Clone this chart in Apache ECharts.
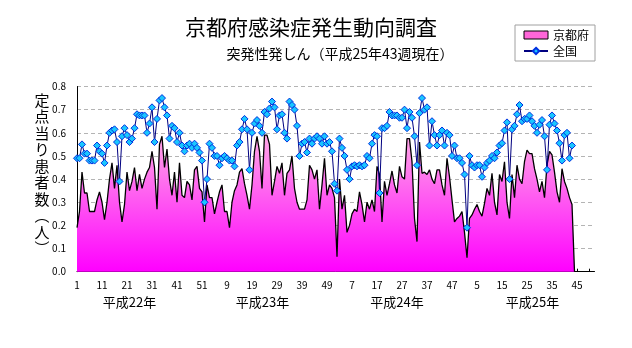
<!DOCTYPE html>
<html><head><meta charset="utf-8">
<script src="https://cdn.jsdelivr.net/npm/echarts@6/dist/echarts.min.js"></script>
<style>html,body{margin:0;padding:0;background:#fff}#c{width:632px;height:348px}</style>
</head><body><div id="c"></div>
<script>
// ---- data ----
const yearLabels = ['平成22年', '平成23年', '平成24年', '平成25年'];
const weeksPerYear = 52;
const titleText = '京都府感染症発生動向調査';
const subtitleText = '突発性発しん（平成25年43週現在）';
const yAxisTitle = ['定', '点', '当', 'り', '患', '者', '数', '︵', '人', '︶'];
const seriesNames = ['京都府', '全国'];

// 京都府: 2010 w1 .. 2013 w43 (then drop)
const kyoto = [
  0.19, 0.26, 0.43, 0.34, 0.34, 0.26, 0.26, 0.26, 0.31, 0.345,
  0.30, 0.225, 0.30, 0.40, 0.47, 0.36, 0.46, 0.30, 0.215, 0.29,
  0.43, 0.35, 0.39, 0.45, 0.35, 0.42, 0.36, 0.40, 0.43, 0.45,
  0.52, 0.45, 0.27, 0.55, 0.585, 0.45, 0.53, 0.40, 0.33, 0.43,
  0.30, 0.47, 0.33, 0.32, 0.39, 0.375, 0.31, 0.44, 0.455, 0.36,
  0.345, 0.215, 0.375, 0.32, 0.32, 0.25, 0.30, 0.345, 0.375, 0.26,
  0.26, 0.19, 0.30, 0.35, 0.375, 0.43, 0.445, 0.38, 0.33, 0.27,
  0.375, 0.52, 0.585, 0.52, 0.36, 0.59, 0.59, 0.55, 0.33, 0.39,
  0.455, 0.425, 0.47, 0.33, 0.425, 0.44, 0.50, 0.36, 0.30, 0.27,
  0.27, 0.27, 0.31, 0.46, 0.44, 0.40, 0.44, 0.27, 0.375, 0.49,
  0.33, 0.375, 0.36, 0.32, 0.065, 0.40, 0.27, 0.33, 0.17, 0.20,
  0.25, 0.27, 0.26, 0.345, 0.29, 0.215, 0.30, 0.27, 0.31, 0.26,
  0.455, 0.42, 0.215, 0.39, 0.33, 0.38, 0.435, 0.375, 0.34, 0.455,
  0.41, 0.40, 0.575, 0.575, 0.475, 0.23, 0.13, 0.56, 0.425, 0.43,
  0.42, 0.44, 0.40, 0.38, 0.44, 0.44, 0.375, 0.33, 0.49, 0.41,
  0.31, 0.215, 0.23, 0.24, 0.26, 0.17, 0.06, 0.23, 0.245, 0.27,
  0.29, 0.26, 0.24, 0.295, 0.36, 0.33, 0.425, 0.30, 0.245, 0.42,
  0.39, 0.475, 0.30, 0.23, 0.42, 0.32, 0.46, 0.40, 0.38, 0.475,
  0.525, 0.51, 0.51, 0.445, 0.40, 0.345, 0.39, 0.32, 0.46, 0.52,
  0.505, 0.43, 0.345, 0.30, 0.445, 0.39, 0.36, 0.32, 0.29, 0
];

// 全国: 2010 w1 .. 2013 w43
const national = [
  0.49, 0.49, 0.55, 0.51, 0.51, 0.48, 0.48, 0.48, 0.545, 0.52,
  0.51, 0.47, 0.545, 0.60, 0.61, 0.615, 0.56, 0.39, 0.585, 0.62,
  0.59, 0.56, 0.575, 0.62, 0.68, 0.675, 0.675, 0.675, 0.60, 0.64,
  0.71, 0.56, 0.66, 0.74, 0.75, 0.71, 0.675, 0.575, 0.63, 0.62,
  0.56, 0.60, 0.545, 0.52, 0.545, 0.553, 0.535, 0.553, 0.535, 0.515,
  0.48, 0.30, 0.40, 0.553, 0.535, 0.50, 0.50, 0.46, 0.49, 0.50,
  0.49, 0.48, 0.48, 0.455, 0.545, 0.56, 0.615, 0.66, 0.615, 0.44,
  0.60, 0.64, 0.655, 0.63, 0.60, 0.69, 0.68, 0.705, 0.735, 0.71,
  0.615, 0.675, 0.68, 0.60, 0.575, 0.735, 0.72, 0.70, 0.63, 0.50,
  0.553, 0.56, 0.515, 0.575, 0.553, 0.575, 0.585, 0.575, 0.553, 0.585,
  0.553, 0.56, 0.52, 0.38, 0.35, 0.575, 0.535, 0.50, 0.44, 0.40,
  0.455, 0.46, 0.455, 0.46, 0.455, 0.46, 0.50, 0.49, 0.553, 0.59,
  0.585, 0.34, 0.62, 0.62, 0.63, 0.69, 0.675, 0.675, 0.675, 0.665,
  0.665, 0.70, 0.62, 0.69, 0.665, 0.585, 0.46, 0.685, 0.75, 0.70,
  0.71, 0.545, 0.65, 0.59, 0.545, 0.59, 0.61, 0.545, 0.60, 0.59,
  0.50, 0.545, 0.49, 0.49, 0.47, 0.42, 0.19, 0.50, 0.46, 0.45,
  0.46, 0.46, 0.41, 0.45, 0.47, 0.48, 0.50, 0.49, 0.515, 0.545,
  0.555, 0.61, 0.645, 0.40, 0.615, 0.63, 0.68, 0.72, 0.65, 0.66,
  0.66, 0.675, 0.65, 0.63, 0.60, 0.635, 0.655, 0.585, 0.44, 0.635,
  0.675, 0.64, 0.61, 0.555, 0.48, 0.59, 0.60, 0.49, 0.545
];

// categories: year index + week number
const categories = [];
yearLabels.forEach(function (y, k) {
  for (let w = 1; w <= weeksPerYear; w++) categories.push(k + '-' + w);
});

const FONT = '"Noto Sans CJK JP", "Noto Sans", sans-serif';
const chart = echarts.init(document.getElementById('c'), null, {renderer: 'canvas'});

const graphics = [
  {type: 'text', x: 311, y: 27, style: {text: titleText, font: '21px ' + FONT, fill: '#000', align: 'center', verticalAlign: 'middle', textAlign: 'center', textVerticalAlign: 'middle'}},
  {type: 'text', x: 340, y: 54, style: {text: subtitleText, font: '14px ' + FONT, fill: '#000', align: 'center', verticalAlign: 'middle', textAlign: 'center', textVerticalAlign: 'middle'}},
  {type: 'text', x: 42, y: 92, style: {text: yAxisTitle.join('\n'), font: '15px ' + FONT, lineHeight: 16.5, fill: '#000', align: 'center', verticalAlign: 'top', textAlign: 'center', textVerticalAlign: 'top'}}
];
const yearX = [129.5, 262.5, 397, 532.5];
yearLabels.forEach(function (t, k) {
  graphics.push({type: 'text', x: yearX[k], y: 302, style: {text: t, font: '13px ' + FONT, fill: '#000', align: 'center', verticalAlign: 'middle', textAlign: 'center', textVerticalAlign: 'middle'}});
});

const areaGrad = new echarts.graphic.LinearGradient(0, 0, 0, 1, [
  {offset: 0, color: '#ffa8e6'},
  {offset: 1, color: '#ff00ff'}
]);

chart.setOption({
  animation: false,
  backgroundColor: '#fff',
  textStyle: {fontFamily: FONT},
  graphic: graphics,
  legend: {
    orient: 'vertical',
    left: 515, top: 25,
    padding: [4, 6, 4, 8],
    itemGap: 4,
    itemWidth: 24, itemHeight: 8,
    borderColor: '#a0a0a0', borderWidth: 1,
    backgroundColor: '#fff',
    textStyle: {fontSize: 12, color: '#000', fontFamily: FONT},
    data: [
      {name: seriesNames[0], icon: 'rect', itemStyle: {color: '#ff66d9', borderColor: '#000', borderWidth: 1}},
      {name: seriesNames[1]}
    ]
  },
  grid: {left: 77, right: 37.5, top: 86.5, bottom: 76.3, containLabel: false},
  xAxis: {
    type: 'category',
    data: categories,
    boundaryGap: false,
    axisLine: {lineStyle: {color: '#000', width: 1}},
    axisTick: {show: true, inside: true, length: 3, interval: 4, lineStyle: {color: '#000'}},
    axisLabel: {interval: 9, fontSize: 10, color: '#000', margin: 9, formatter: function (v) { return v.split('-')[1]; }},
    splitLine: {show: false}
  },
  yAxis: {
    type: 'value',
    min: 0, max: 0.8, interval: 0.1,
    axisLine: {show: true, lineStyle: {color: '#000', width: 1}},
    axisTick: {show: false},
    axisLabel: {fontSize: 10, color: '#000', margin: 11, formatter: function (v) { return v.toFixed(1); }},
    splitLine: {show: true, lineStyle: {color: '#b4b4b4', type: [4, 3], width: 1}}
  },
  series: [
    {
      name: seriesNames[0], type: 'line', data: kyoto, symbol: 'none', z: 2,
      lineStyle: {color: '#000', width: 1.3},
      itemStyle: {color: '#ff66d9'},
      areaStyle: {color: areaGrad, opacity: 1}
    },
    {
      name: seriesNames[1], type: 'line', data: national, symbol: 'diamond', symbolSize: 7, z: 3,
      showAllSymbol: true,
      lineStyle: {color: '#000080', width: 1},
      itemStyle: {color: '#19c6ff', borderColor: '#0030e0', borderWidth: 1}
    }
  ]
});
</script>
</body></html>
